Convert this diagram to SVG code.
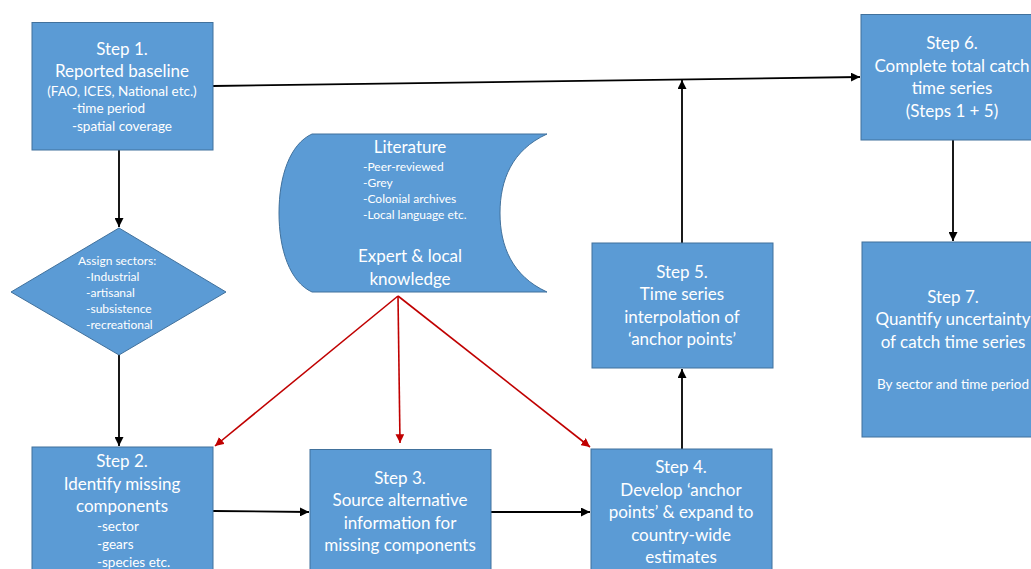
<svg xmlns="http://www.w3.org/2000/svg" width="1031" height="569" viewBox="0 0 1031 569">
<style>
.box{fill:#5b9bd5;stroke:#41719c;stroke-width:1}
.t{font-family:Lato,"Open Sans","Liberation Sans",sans-serif;fill:#ffffff;font-size:17px}
.s{font-size:13.5px}
.xs{font-size:12px}
.c{text-anchor:middle}
.k{stroke:#000;stroke-width:1.8;fill:none}
.r{stroke:#c00000;stroke-width:1.6;fill:none}
</style>
<defs>
<marker id="ab" viewBox="0 0 10 10" refX="10" refY="5" markerWidth="5" markerHeight="5" orient="auto" markerUnits="strokeWidth"><path d="M0,0 L10,5 L0,10 z" fill="#000"/></marker>
<marker id="ar" viewBox="0 0 10 10" refX="10" refY="5" markerWidth="5.5" markerHeight="5.5" orient="auto" markerUnits="strokeWidth"><path d="M0,0 L10,5 L0,10 z" fill="#c00000"/></marker>
</defs>
<rect width="1031" height="569" fill="#fff"/>
<g id="connectors">
<line class="k" x1="213" y1="86" x2="860" y2="77" marker-end="url(#ab)"/>
<line class="k" x1="682" y1="243" x2="682" y2="80" marker-end="url(#ab)"/>
<line class="k" x1="953" y1="140" x2="953" y2="241" marker-end="url(#ab)"/>
<line class="k" x1="682" y1="449" x2="682" y2="369" marker-end="url(#ab)"/>
<line class="k" x1="119" y1="150" x2="119" y2="227" marker-end="url(#ab)"/>
<line class="k" x1="119" y1="355" x2="119" y2="446" marker-end="url(#ab)"/>
<line class="k" x1="213" y1="511" x2="309" y2="512" marker-end="url(#ab)"/>
<line class="k" x1="491" y1="512" x2="590" y2="512" marker-end="url(#ab)"/>
<line class="r" x1="398" y1="296" x2="215" y2="446" marker-end="url(#ar)"/>
<line class="r" x1="398" y1="296" x2="400" y2="443" marker-end="url(#ar)"/>
<line class="r" x1="398" y1="296" x2="590" y2="447" marker-end="url(#ar)"/>
</g>
<g id="step1">
<rect class="box" x="32" y="22.5" width="181" height="127.5"/>
<text class="t c" x="122" y="55">Step 1.</text>
<text class="t c" x="122" y="77">Reported baseline</text>
<text class="t c s" x="122" y="96">(FAO, ICES, National etc.)</text>
<text class="t s" x="72" y="113">-time period</text>
<text class="t s" x="72" y="131">-spatial coverage</text>
</g>
<g id="sectors">
<path class="box" d="M119,228 L226,292 L119,355 L11,292 Z"/>
<text class="t xs" x="78" y="265">Assign sectors:</text>
<text class="t xs" x="86" y="281">-Industrial</text>
<text class="t xs" x="86" y="297">-artisanal</text>
<text class="t xs" x="86" y="313">-subsistence</text>
<text class="t xs" x="86" y="329">-recreational</text>
</g>
<g id="literature">
<path class="box" d="M312,134 L547,134 C512,150 500,180 500,213 C500,246 512,276 547,292 L312,292 C290,282 279,250 279,213 C279,176 290,144 312,134 Z"/>
<text class="t c" x="410" y="153">Literature</text>
<text class="t xs" x="363" y="171">-Peer-reviewed</text>
<text class="t xs" x="363" y="187">-Grey</text>
<text class="t xs" x="363" y="203">-Colonial archives</text>
<text class="t xs" x="363" y="219">-Local language etc.</text>
<text class="t c" x="410" y="262">Expert &amp; local</text>
<text class="t c" x="410" y="285">knowledge</text>
</g>
<g id="step2">
<rect class="box" x="32" y="447" width="181" height="130"/>
<text class="t c" x="122" y="467">Step 2.</text>
<text class="t c" x="122" y="490">Identify missing</text>
<text class="t c" x="122" y="512">components</text>
<text class="t s" x="97" y="531">-sector</text>
<text class="t s" x="97" y="549">-gears</text>
<text class="t s" x="97" y="567">-species etc.</text>
</g>
<g id="step3">
<rect class="box" x="310" y="449.5" width="181" height="130"/>
<text class="t c" x="400" y="484">Step 3.</text>
<text class="t c" x="400" y="506">Source alternative</text>
<text class="t c" x="400" y="529">information for</text>
<text class="t c" x="400" y="551">missing components</text>
</g>
<g id="step4">
<rect class="box" x="591" y="449" width="181" height="130"/>
<text class="t c" x="681" y="473">Step 4.</text>
<text class="t c" x="681" y="496">Develop ‘anchor</text>
<text class="t c" x="681" y="518">points’ &amp; expand to</text>
<text class="t c" x="681" y="541">country-wide</text>
<text class="t c" x="681" y="563">estimates</text>
</g>
<g id="step5">
<rect class="box" x="592" y="243" width="181" height="125"/>
<text class="t c" x="682" y="278">Step 5.</text>
<text class="t c" x="682" y="300">Time series</text>
<text class="t c" x="682" y="323">interpolation of</text>
<text class="t c" x="682" y="345">‘anchor points’</text>
</g>
<g id="step6">
<rect class="box" x="861" y="14.5" width="190" height="125.5"/>
<text class="t c" x="952" y="49">Step 6.</text>
<text class="t c" x="952" y="72">Complete total catch</text>
<text class="t c" x="952" y="94">time series</text>
<text class="t c" x="952" y="117">(Steps 1 + 5)</text>
</g>
<g id="step7">
<rect class="box" x="862" y="242" width="190" height="195"/>
<text class="t c" x="953" y="303">Step 7.</text>
<text class="t c" x="953" y="325">Quantify uncertainty</text>
<text class="t c" x="953" y="348">of catch time series</text>
<text class="t c s" x="953" y="389">By sector and time period</text>
</g>
</svg>
